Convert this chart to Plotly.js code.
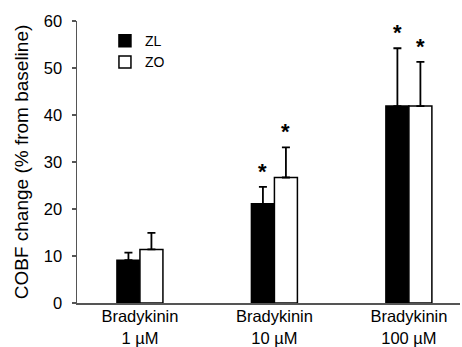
<!DOCTYPE html>
<html>
<head>
<meta charset="utf-8">
<script src="https://cdn.plot.ly/plotly-3.0.1.min.js"></script>
<style>html,body{margin:0;padding:0;background:#fff}#chart{width:462px;height:347px}</style>
</head>
<body>
<div id="chart"></div>
<script>
const categories = ["Bradykinin<br>1 µM", "Bradykinin<br>10 µM", "Bradykinin<br>100 µM"];
const zlValues = [9.1, 21.1, 41.9];
const zlErrors = [1.6, 3.6, 12.3];
const zoValues = [11.4, 26.7, 41.9];
const zoErrors = [3.5, 6.4, 9.4];
const zlSignificant = [false, true, true];
const zoSignificant = [false, true, true];
const yTicks = [0, 10, 20, 30, 40, 50, 60];

const FONT = "Arial, 'Liberation Sans', sans-serif";

const traces = [
  {
    type: "bar", name: "ZL", x: categories, y: zlValues,
    marker: {color: "#000", line: {color: "#000", width: 1.5}},
    error_y: {type: "data", symmetric: false, array: zlErrors, arrayminus: zlErrors.map(() => 0),
              color: "#000", thickness: 1.8, width: 4}
  },
  {
    type: "bar", name: "ZO", x: categories, y: zoValues,
    marker: {color: "#fff", line: {color: "#000", width: 1.5}},
    error_y: {type: "data", symmetric: false, array: zoErrors, arrayminus: zoErrors.map(() => 0),
              color: "#000", thickness: 1.8, width: 4}
  }
];

const annotations = [];
function addStars(vals, errs, sig, shift) {
  vals.forEach((v, i) => {
    if (sig[i]) {
      annotations.push({
        x: categories[i], y: v + errs[i], xref: "x", yref: "y",
        text: "<b>*</b>", showarrow: false, yanchor: "bottom", xanchor: "center",
        xshift: shift, yshift: 1,
        font: {family: FONT, size: 22, color: "#000"}
      });
    }
  });
}
addStars(zlValues, zlErrors, zlSignificant, -11.5);
addStars(zoValues, zoErrors, zoSignificant, 11.5);

const layout = {
  width: 462, height: 347,
  margin: {l: 77, r: 2, t: 21, b: 44},
  paper_bgcolor: "#fff", plot_bgcolor: "#fff",
  font: {family: FONT, size: 16, color: "#000"},
  barmode: "group", bargap: 0.658, bargroupgap: 0,
  showlegend: true,
  legend: {x: 0.073, y: 0.985, xanchor: "left", yanchor: "top",
           bgcolor: "rgba(0,0,0,0)", font: {family: FONT, size: 14, color: "#000"},
           tracegroupgap: 0, itemwidth: 30},
  xaxis: {type: "category", range: [-0.468, 2.38], showline: true, linecolor: "#555", linewidth: 1.5,
          ticks: "", showgrid: false, zeroline: false, fixedrange: true, ticklabelstandoff: -2,
          tickfont: {family: FONT, size: 16.5, color: "#000"}},
  yaxis: {range: [0, 60], tickvals: yTicks, ticktext: yTicks.map(String), showline: true, linecolor: "#555", linewidth: 1.5,
          ticks: "outside", ticklen: 4, tickwidth: 1.5, tickcolor: "#555", showgrid: false, zeroline: false,
          tickfont: {family: FONT, size: 16.5, color: "#000"}, ticklabelstandoff: 6,
          title: {text: "COBF change (% from baseline)", font: {family: FONT, size: 19, color: "#000"}, standoff: 10}},
  annotations: annotations
};

Plotly.newPlot("chart", traces, layout, {staticPlot: true, displayModeBar: false});
</script>
</body>
</html>
